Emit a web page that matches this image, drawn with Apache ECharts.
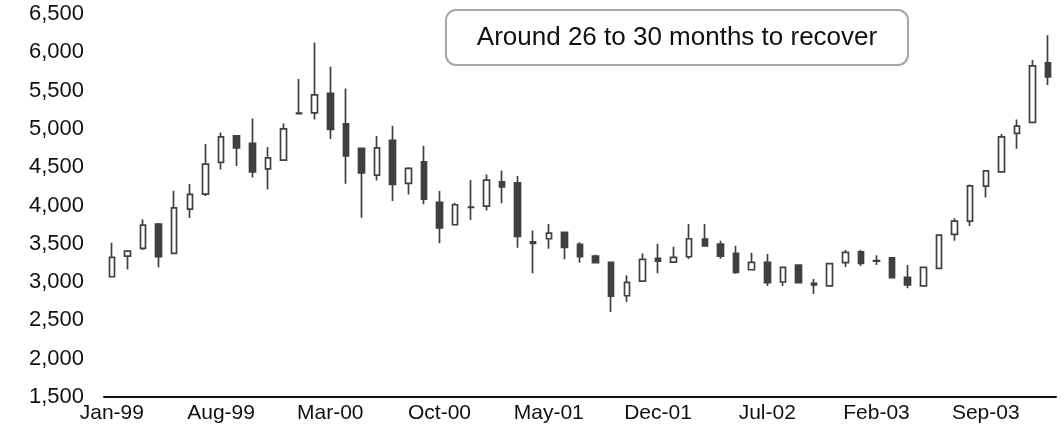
<!DOCTYPE html>
<html>
<head>
<meta charset="utf-8">
<script src="https://cdn.jsdelivr.net/npm/echarts@6/dist/echarts.min.js"></script>
<style>
  html, body { margin: 0; padding: 0; background: #fff; }
  #chart { width: 1064px; height: 440px; }
</style>
</head>
<body>
<div id="chart"></div>
<script>
// Monthly index candles, Jan-99 .. Jan-04
const months = [
  'Jan-99','Feb-99','Mar-99','Apr-99','May-99','Jun-99','Jul-99','Aug-99','Sep-99','Oct-99','Nov-99','Dec-99',
  'Jan-00','Feb-00','Mar-00','Apr-00','May-00','Jun-00','Jul-00','Aug-00','Sep-00','Oct-00','Nov-00','Dec-00',
  'Jan-01','Feb-01','Mar-01','Apr-01','May-01','Jun-01','Jul-01','Aug-01','Sep-01','Oct-01','Nov-01','Dec-01',
  'Jan-02','Feb-02','Mar-02','Apr-02','May-02','Jun-02','Jul-02','Aug-02','Sep-02','Oct-02','Nov-02','Dec-02',
  'Jan-03','Feb-03','Mar-03','Apr-03','May-03','Jun-03','Jul-03','Aug-03','Sep-03','Oct-03','Nov-03','Dec-03',
  'Jan-04'
];

const opens = [
  3070, 3340, 3440, 3758, 3375, 3953, 4149, 4563, 4910, 4811, 4479, 4593,
  5200, 5210, 5463, 5067, 4746, 4397, 4850, 4289, 4571, 4041, 3749, 3980,
  3993, 4310, 4297, 3525, 3566, 3649, 3493, 3340, 3258, 2822, 3014, 3310,
  3262, 3331, 3562, 3497, 3375, 3161, 3258, 3001, 3223, 2985, 2952, 3253,
  3396, 3282, 3318, 3062, 2952, 3180, 3623, 3797, 4254, 4440, 4941, 5085,
  5863
];
const closes = [
  3323, 3405, 3745, 3331, 3970, 4145, 4541, 4897, 4753, 4440, 4623, 5001,
  5205, 5445, 4994, 4649, 4427, 4753, 4276, 4485, 4084, 3709, 4010, 3975,
  4332, 4244, 3597, 3505, 3640, 3454, 3331, 3253, 2818, 2997, 3297, 3275,
  3323, 3566, 3471, 3340, 3127, 3258, 2992, 3193, 2992, 2965, 3240, 3388,
  3245, 3275, 3057, 2962, 3193, 3614, 3797, 4257, 4453, 4897, 5037, 5824,
  5680
];
const lows = [
  3065, 3166, 3420, 3193, 3370, 3836, 4123, 4471, 4515, 4367, 4210, 4590,
  5195, 5124, 4867, 4284, 3840, 4328, 4058, 4145, 4015, 3506, 3745, 3810,
  3934, 4028, 3448, 3114, 3435, 3297, 3253, 3250, 2609, 2740, 3010, 3114,
  3258, 3301, 3465, 3305, 3110, 3158, 2949, 2949, 2985, 2844, 2945, 3197,
  3210, 3223, 3052, 2919, 2948, 3175, 3540, 3732, 4106, 4435, 4740, 5080,
  5572
];
const highs = [
  3514, 3410, 3819, 3770, 4192, 4280, 4802, 4954, 4915, 5137, 4763, 5072,
  5650, 6129, 5810, 5529, 4750, 4906, 5041, 4500, 4779, 4188, 4036, 4332,
  4406, 4458, 4384, 3675, 3758, 3655, 3520, 3357, 3265, 3088, 3375, 3501,
  3461, 3758, 3758, 3540, 3474, 3383, 3366, 3200, 3232, 3040, 3245, 3418,
  3418, 3349, 3322, 3223, 3200, 3625, 3832, 4275, 4462, 4932, 5124, 5898,
  6224
];

// Value axis range
const yMin = 1500;
const yMax = 6500;
const yStep = 500;

const noteText = 'Around 26 to 30 months to recover';

const candles = opens.map((o, i) => [o, closes[i], lows[i], highs[i]]);

const FONT = "'Liberation Sans', Arial, sans-serif";
const INK = '#404040';

const chart = echarts.init(document.getElementById('chart'), null, { renderer: 'canvas' });

chart.setOption({
  animation: false,
  backgroundColor: '#ffffff',
  grid: { left: 104, right: 8, top: 14, bottom: 43 },
  xAxis: {
    type: 'category',
    data: months,
    boundaryGap: true,
    axisLine: { show: true, lineStyle: { color: '#111', width: 2 } },
    axisTick: { show: false },
    axisLabel: {
      interval: 6,
      margin: 6,
      color: '#111',
      fontFamily: FONT,
      fontSize: 21
    },
    splitLine: { show: false }
  },
  yAxis: {
    type: 'value',
    min: yMin,
    max: yMax,
    interval: yStep,
    axisLine: { show: false },
    axisTick: { show: false },
    splitLine: { show: false },
    axisLabel: {
      margin: 20,
      color: '#111',
      fontFamily: FONT,
      fontSize: 22,
      formatter: v => v.toLocaleString('en-US')
    }
  },
  series: [{
    type: 'candlestick',
    data: candles,
    barWidth: 6,
    itemStyle: {
      color: '#ffffff',
      color0: INK,
      borderColor: INK,
      borderColor0: INK,
      borderWidth: 1.7
    }
  }],
  graphic: [{
    type: 'group',
    left: 445,
    top: 9,
    children: [{
      type: 'rect',
      shape: { x: 0, y: 0, width: 462, height: 55, r: 10 },
      style: { fill: '#ffffff', stroke: '#a6a6a6', lineWidth: 2 }
    }, {
      type: 'text',
      x: 231,
      y: 28,
      style: {
        text: noteText,
        font: '26px ' + FONT,
        fill: '#111',
        align: 'center',
        verticalAlign: 'middle'
      }
    }]
  }]
});
</script>
</body>
</html>
